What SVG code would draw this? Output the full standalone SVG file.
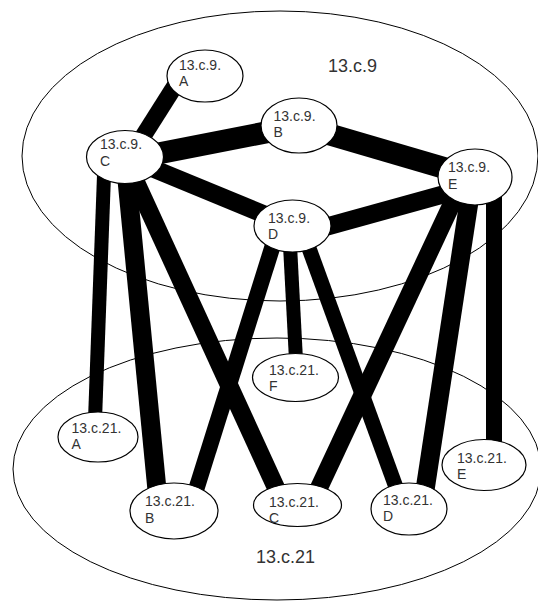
<svg xmlns="http://www.w3.org/2000/svg" width="538" height="601" viewBox="0 0 538 601">
<style>
.bg{fill:#ffffff}
.cluster{fill:none;stroke:#000;stroke-width:1}
.node{fill:#ffffff;stroke:#000;stroke-width:1.2}
.edge{stroke:#000;stroke-linecap:butt;fill:none}
.nt{font-family:"Liberation Sans",Arial,sans-serif;font-size:14px;fill:#333}
.ct{font-family:"Liberation Sans",Arial,sans-serif;font-size:18px;fill:#333}
</style>
<rect class="bg" x="0" y="0" width="538" height="601"/>
<g id="cluster-13c9">
<ellipse class="cluster" cx="280" cy="156" rx="258" ry="145"/>
<text class="ct" x="328" y="72">13.c.9</text>
</g>
<g id="cluster-13c21">
<ellipse class="cluster" cx="277" cy="469" rx="264" ry="131"/>
<text class="ct" x="256" y="563">13.c.21</text>
</g>
<g id="connectors">
<line class="edge" x1="185" y1="70" x2="135" y2="149" stroke-width="17"/>
<line class="edge" x1="125" y1="160" x2="299" y2="126" stroke-width="22"/>
<line class="edge" x1="299" y1="125.5" x2="475" y2="177" stroke-width="22"/>
<line class="edge" x1="125" y1="157" x2="292.5" y2="226" stroke-width="18"/>
<line class="edge" x1="300" y1="234" x2="470" y2="187" stroke-width="18"/>
<line class="edge" x1="104" y1="175" x2="95" y2="420" stroke-width="14"/>
<line class="edge" x1="127" y1="180" x2="157" y2="490" stroke-width="19"/>
<line class="edge" x1="135" y1="180" x2="277" y2="490" stroke-width="18"/>
<line class="edge" x1="273" y1="245" x2="196" y2="490" stroke-width="16"/>
<line class="edge" x1="290" y1="245" x2="296" y2="360" stroke-width="14"/>
<line class="edge" x1="306" y1="240" x2="397" y2="490" stroke-width="15"/>
<line class="edge" x1="456" y1="195" x2="318" y2="490" stroke-width="18"/>
<line class="edge" x1="470" y1="195" x2="425" y2="490" stroke-width="19"/>
<line class="edge" x1="494" y1="190" x2="494" y2="445" stroke-width="16"/>
</g>
<g id="n-13c9A">
<ellipse class="node" cx="205" cy="76" rx="38" ry="26"/>
<text class="nt" x="179" y="70">13.c.9.</text><text class="nt" x="179" y="86">A</text>
</g>
<g id="n-13c9B">
<ellipse class="node" cx="299" cy="125.5" rx="38" ry="27.5"/>
<text class="nt" x="273.5" y="121">13.c.9.</text><text class="nt" x="273.5" y="137">B</text>
</g>
<g id="n-13c9C">
<ellipse class="node" cx="125" cy="157" rx="38.5" ry="26.5"/>
<text class="nt" x="100" y="149">13.c.9.</text><text class="nt" x="100" y="165.5">C</text>
</g>
<g id="n-13c9D">
<ellipse class="node" cx="292.5" cy="226" rx="38.5" ry="26"/>
<text class="nt" x="268" y="222.5">13.c.9.</text><text class="nt" x="268" y="239">D</text>
</g>
<g id="n-13c9E">
<ellipse class="node" cx="475" cy="177" rx="37" ry="28"/>
<text class="nt" x="448" y="172">13.c.9.</text><text class="nt" x="448" y="188.5">E</text>
</g>
<g id="n-13c21A">
<ellipse class="node" cx="98" cy="437" rx="40" ry="25"/>
<text class="nt" x="71.5" y="433">13.c.21.</text><text class="nt" x="71.5" y="448.5">A</text>
</g>
<g id="n-13c21B">
<ellipse class="node" cx="174" cy="511" rx="44" ry="28"/>
<text class="nt" x="145" y="506">13.c.21.</text><text class="nt" x="145" y="522.5">B</text>
</g>
<g id="n-13c21C">
<ellipse class="node" cx="297.5" cy="505" rx="44" ry="21.5"/>
<text class="nt" x="269" y="506.5">13.c.21.</text><text class="nt" x="269" y="522.5">C</text>
</g>
<g id="n-13c21D">
<ellipse class="node" cx="409" cy="509" rx="38" ry="26"/>
<text class="nt" x="383" y="505">13.c.21.</text><text class="nt" x="383" y="521">D</text>
</g>
<g id="n-13c21E">
<ellipse class="node" cx="484" cy="465" rx="42" ry="25.5"/>
<text class="nt" x="457" y="463">13.c.21.</text><text class="nt" x="457" y="478.5">E</text>
</g>
<g id="n-13c21F">
<ellipse class="node" cx="295.5" cy="377.5" rx="43" ry="24"/>
<text class="nt" x="269" y="375">13.c.21.</text><text class="nt" x="269" y="391">F</text>
</g>
</svg>
